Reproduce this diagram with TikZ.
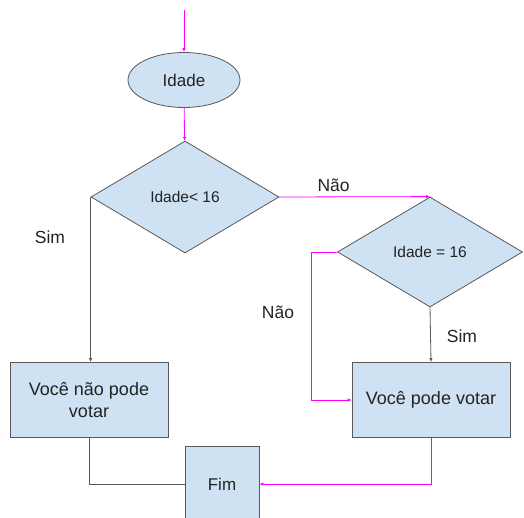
\documentclass[tikz,border=0pt]{standalone}
\usepackage{fontspec}
\setmainfont{Liberation Sans}
\usepackage{tikz}
\usetikzlibrary{arrows.meta,shapes,positioning}
\usepackage{xcolor}
\definecolor{BoxFill} {RGB}{207,226,243}
\definecolor{BoxLine} {RGB}{89, 89, 89}
\definecolor{LinkMag} {RGB}{255,0, 255}
\definecolor{TextD}   {RGB}{35, 35, 35}

\begin{document}
\begin{tikzpicture}[x=1pt,y=-1pt,
    blk/.style={draw=BoxLine,fill=BoxFill,line width=0.8pt,text=TextD,inner sep=0pt,
      font=\fontsize{17}{21}\selectfont,align=center},
    oval/.style={blk,ellipse,minimum width=112pt,minimum height=55pt},
    test/.style={blk,diamond,font=\fontsize{15.5}{18}\selectfont},
    proc/.style={blk,rectangle,minimum width=158pt,minimum height=75pt,
      font=\fontsize{18}{22}\selectfont},
    lbl/.style={text=TextD,font=\fontsize{17.5}{21}\selectfont},
    magarr/.style={LinkMag,line width=0.8pt,-{Latex[length=4pt,width=3.5pt]}},
    blkarr/.style={BoxLine,line width=0.8pt,-{Latex[length=4pt,width=3.5pt]}}]
        \useasboundingbox (0,0) rectangle (524,518);
        \clip (0,0) rectangle (524,518);
        % shapes
        \coordinate (start) at (184,10);
        \node[oval] (idade) at (184,80) {Idade};
        \node[test,minimum width=188pt,minimum height=112pt] (menor) at (185,197) {Idade< 16};
        \node[test,minimum width=185pt,minimum height=110pt] (igual) at (430,252) {Idade = 16};
        \node[proc] (naopode) at (89,400) {Você não pode\\votar};
        \node[proc] (pode) at (431,400) {Você pode votar};
        \node[blk,rectangle,minimum width=74pt,minimum height=76pt] (fim) at (222,484) {Fim};
        % links
        \draw[magarr] (start) -- (idade);
        \draw[magarr] (idade) -- (menor);
        \draw[magarr] (menor.east) -- (igual.north)
          node[lbl,pos=0.36,above=1pt]{Não};
        \draw[blkarr] (menor.west) -- (menor.west |- naopode.north);
        \node[lbl] (sim1) at (50,237) {Sim};
        \draw[blkarr] (igual.south) -- (pode.north);
        \node[lbl] (sim2) at (462,336) {Sim};
        \draw[magarr] (igual.west) -- ++(-26,0) |- (pode.west);
        \node[lbl] (nao2) at (278,312) {Não};
        \draw[BoxLine,line width=0.8pt] (naopode.south) |- (fim.west);
        \draw[magarr] (pode.south) |- (fim.east);
      \end{tikzpicture}
\end{document}
